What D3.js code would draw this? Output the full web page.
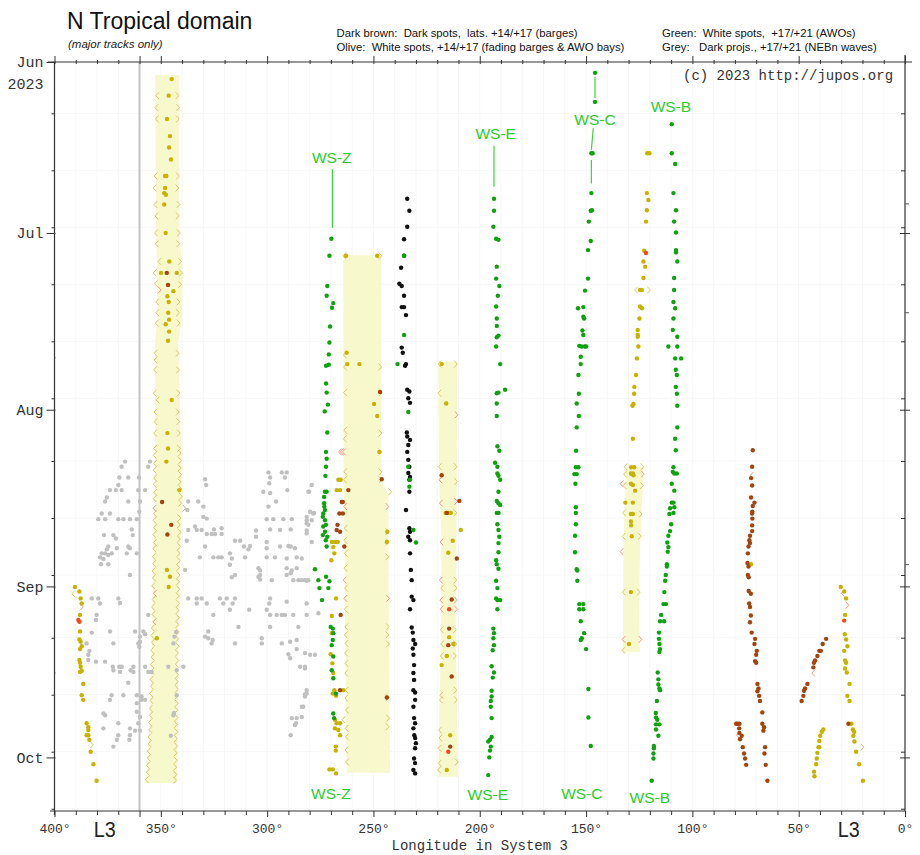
<!DOCTYPE html>
<html>
<head>
<meta charset="utf-8">
<script src="https://cdn.jsdelivr.net/npm/d3@7"></script>
<style>
  body { margin: 0; background: #fff; }
  svg { display: block; }
  text { white-space: pre; }
</style>
</head>
<body>
<svg id="chart" width="920" height="855"></svg>
<script>
// Drift chart of the North Tropical domain, 2023 apparition.
// Every measurement is [day, longitude]: day counted from 2023 June 1, 0h UT,
// longitude in System III degrees.

const startDate = new Date(Date.UTC(2023, 5, 1));
const endDay = 131.4;
const monthLabels = ["Jun", "Jul", "Aug", "Sep", "Oct"];
const yearLabel = "2023";
const lonLabelTicks = [400, 350, 300, 250, 200, 150, 100, 50, 0];

// Green: white spots (AWOs), tracks WS-Z, WS-E, WS-C, WS-B and a few others
const whiteSpots = [
  // WS-Z
  [31.0,269.8],[34.0,270.7],[39.3,271.7],[41.0,272.0],[42.3,268.9],[43.1,269.5],[46.4,270.4],[49.2,270.7],
  [51.3,271.0],[53.3,272.3],[53.1,271.0],[56.4,272.3],[58.0,272.0],[60.1,271.4],[61.3,272.9],[65.0,271.7],
  [68.4,272.3],[69.6,272.0],[71.0,272.3],[72.6,272.6],[75.4,272.8],[75.4,272.0],[76.3,273.2],[77.4,273.2],
  [78.0,273.1],[78.6,272.8],[79.2,273.6],[79.8,273.8],[80.4,272.8],[81.2,272.3],[81.5,273.6],[82.4,272.8],
  [83.0,273.8],[83.3,271.7],[83.9,272.4],[85.0,272.0],[89.0,277.5],[90.3,272.3],[90.9,275.9],[91.1,270.7],
  [92.3,275.4],[92.3,271.2],[94.4,274.2],[99.1,270.1],[99.4,269.1],[100.2,268.9],[101.4,269.1],[102.3,269.6],
  [104.3,268.9],[106.7,269.6],[108.1,268.9],[110.8,267.6],[114.3,268.9],[115.1,268.5],
  // scattered near the dark track
  [34.0,235.6],[47.9,235.6],[53.0,238.7],[61.4,233.6],[71.0,233.6],[73.3,232.8],[74.5,233.1],[82.1,231.2],[84.3,230.0],
  // WS-E
  [24.0,193.3],[26.1,193.3],[28.9,193.6],[31.0,192.3],[31.2,191.2],[35.9,192.0],[38.0,192.3],[39.3,190.8],
  [41.0,191.5],[42.9,192.3],[45.0,192.0],[46.3,192.0],[48.0,191.2],[48.3,192.0],[49.9,192.3],[53.0,190.4],
  [58.1,192.0],[58.0,191.2],[57.5,188.1],[59.9,192.0],[62.1,192.0],[67.4,191.7],[68.2,190.8],[70.3,192.8],
  [71.0,191.7],[72.2,191.7],[72.6,191.2],[73.3,190.4],[75.4,191.2],[77.0,192.0],[77.4,191.2],[77.7,190.4],
  [79.1,192.0],[79.1,191.2],[81.1,191.7],[82.1,191.2],[83.3,190.8],[84.4,191.2],[86.0,191.2],[87.4,192.3],
  [88.1,192.0],[88.9,191.2],[91.0,192.3],[92.3,191.7],[94.1,192.3],[94.4,191.7],[94.4,190.4],[96.0,191.7],
  [99.4,193.6],[100.2,193.3],[101.1,193.6],[102.3,193.3],[103.2,193.9],[106.0,194.4],[107.1,193.3],[108.0,193.9],
  [110.3,194.4],[111.3,194.4],[112.1,194.8],[113.1,194.8],[115.1,194.4],[118.4,194.4],[118.9,195.2],[119.2,196.0],
  [120.1,194.8],[120.8,195.2],[122.0,195.5],[125.1,196.0],
  // WS-C
  [1.9,145.8],[7.0,145.8],[16.0,147.5],[16.0,146.9],[23.0,147.5],[26.1,147.8],[26.0,147.2],[28.0,148.7],
  [31.4,147.8],[33.0,149.1],[38.0,149.1],[40.1,150.5],[43.2,153.8],[43.0,151.3],[44.7,151.3],[45.0,150.9],
  [47.1,151.7],[47.9,151.3],[49.8,153.2],[49.9,152.0],[49.9,150.5],[49.9,150.0],[51.7,152.5],[53.0,152.5],
  [54.9,153.6],[58.2,153.4],[59.9,154.4],[62.1,153.4],[64.1,154.4],[68.2,154.7],[71.1,154.8],[71.1,153.6],
  [72.3,155.5],[72.3,154.4],[74.0,155.0],[78.1,154.8],[79.1,154.8],[81.1,154.8],[83.1,155.2],[86.0,155.2],
  [89.0,154.4],[89.2,154.1],[91.0,154.1],[95.1,153.2],[95.1,151.3],[96.0,153.2],[96.0,151.3],[98.1,152.5],
  [100.2,150.9],[101.1,152.0],[101.4,152.5],[103.0,150.0],[110.0,148.9],[115.0,148.9],[120.0,147.8],
  // WS-B
  [10.9,109.7],[16.0,109.7],[17.9,108.1],[23.0,108.9],[26.0,107.7],[28.0,108.6],[29.9,107.7],[33.0,107.7],
  [33.4,107.7],[35.0,107.1],[37.9,108.6],[40.0,108.6],[42.1,108.9],[43.2,108.1],[45.0,108.9],[47.0,109.2],
  [48.2,107.1],[49.9,111.3],[49.9,107.1],[52.0,108.1],[52.0,105.3],[54.0,107.8],[54.9,107.3],[57.0,107.8],
  [58.2,107.3],[60.3,107.1],[64.1,107.1],[66.1,108.1],[68.1,107.8],[71.1,108.9],[71.9,109.2],[72.2,108.5],
  [72.2,107.3],[74.0,109.7],[75.2,108.5],[77.3,109.7],[77.3,108.9],[78.1,108.5],[78.3,110.5],[79.3,110.8],
  [79.1,108.9],[81.1,110.0],[82.3,110.5],[83.1,111.3],[84.3,111.8],[85.1,111.3],[85.9,111.6],[88.1,112.0],
  [88.5,112.0],[90.0,112.5],[91.0,112.8],[93.0,113.2],[95.1,113.6],[95.1,112.4],[97.0,114.7],[98.1,115.2],
  [98.1,113.3],[100.1,115.7],[101.2,115.7],[102.1,115.5],[103.0,115.2],[103.5,115.5],[107.1,116.3],[108.3,116.0],
  [109.2,116.0],[109.9,115.5],[110.2,115.2],[112.1,116.7],[114.2,117.2],[115.0,117.1],[115.4,116.5],[116.2,117.1],
  [116.2,115.5],[117.1,117.1],[118.2,116.0],[120.0,118.1],[120.4,118.1],[121.3,118.3],[122.2,118.3],[126.1,119.1],
  // spots just beyond the left edge
  [51.9,400.6],[107.2,400.6]
];

// Olive: white spots at +14/+17 (fading barges and AWO bays)
const fadingSpots = [
  // around 345
  [3.0,344.9],[5.9,346.3],[10.0,347.1],[13.0,345.7],[15.0,346.1],[17.1,345.2],[20.0,348.0],[20.0,347.4],
  [22.1,348.0],[23.0,348.4],[23.3,347.6],[25.0,348.4],[30.0,347.7],[35.0,346.0],[37.0,349.9],[37.0,342.5],
  [40.2,344.1],[41.1,346.9],[42.1,346.3],[44.0,346.5],[45.2,346.1],[46.0,347.7],[47.3,346.1],[48.9,346.6],
  [59.3,344.9],[65.1,346.9],[67.8,346.6],[70.1,347.4],[75.1,341.3],[89.1,347.1],[90.3,345.7],[92.1,346.3],
  [101.1,351.9],
  // around 255-270
  [34.0,262.9],[34.0,248.2],[51.0,262.6],[53.0,262.3],[53.0,256.6],[60.0,249.7],[62.1,248.2],[68.4,247.2],
  [73.3,266.5],[73.3,265.4],[75.1,267.3],[75.1,265.7],[84.2,269.5],[84.2,268.1],[84.2,266.8],[85.1,268.9],
  [86.2,268.4],[87.4,269.8],[82.4,243.5],[84.2,243.7],[94.1,267.6],[97.2,269.6],[100.2,269.6],[100.2,268.9],
  [103.9,270.1],[105.5,269.3],[107.2,268.9],[110.2,268.4],[110.8,269.1],[111.2,267.6],[110.2,264.2],[115.4,268.1],
  [116.0,267.3],[116.0,265.7],[116.9,268.1],[117.2,266.5],[118.1,265.7],[120.1,267.7],[120.8,267.7],[124.1,270.7],
  [124.1,269.1],[124.8,267.6],
  // around 215
  [53.0,217.9],[59.9,215.8],[79.1,216.0],[79.1,214.8],[79.1,213.6],[82.1,208.9],[84.0,212.7],[86.1,214.8],
  [100.9,214.4],[102.1,212.4],[104.2,215.5],[105.8,217.9],[118.1,213.9],[124.2,215.5],
  // around 125
  [16.0,121.2],[16.0,120.2],[23.0,121.4],[24.2,120.7],[26.0,121.4],[28.0,121.8],[33.1,122.7],[35.0,123.0],
  [35.9,122.2],[37.9,123.0],[40.0,124.6],[40.0,123.8],[42.9,124.6],[43.2,123.7],[45.0,124.9],[47.0,125.7],
  [47.9,125.7],[48.2,125.7],[49.9,125.4],[52.0,126.1],[54.9,126.5],[57.0,127.3],[58.2,127.4],[60.0,127.7],
  [60.3,128.2],[66.1,128.0],[71.1,128.8],[71.1,127.4],[72.2,128.9],[72.2,128.0],[72.3,128.5],[72.5,127.7],
  [74.0,128.9],[74.2,128.0],[75.2,126.9],[77.3,131.5],[77.3,128.0],[79.3,128.9],[79.3,128.0],[80.6,128.9],
  [81.3,128.8],[83.2,128.5],[93.0,128.9],[102.1,129.8],
  // east of 75
  [88.1,72.4],
  [92.1,30.2],[92.9,28.6],[94.1,27.7],[97.0,28.2],[100.4,28.3],[101.3,27.7],[102.5,27.1],[103.3,28.6],
  [105.0,28.2],[105.4,27.7],[106.4,28.2],[107.1,27.4],[109.1,26.1],[111.2,27.1],[112.1,26.1],[116.1,25.2],
  [117.1,24.5],[117.5,23.9],[118.2,24.3],[119.2,23.8],[121.0,23.0],[123.2,21.6],[126.1,19.8],
  [117.1,38.4],[117.5,39.1],[118.2,39.9],[119.1,40.3],[120.2,40.7],[120.2,40.3],[121.2,41.2],[122.2,41.5],
  [123.2,41.8],[124.5,42.8],[125.3,42.6],
  // around 387
  [92.1,390.4],[92.9,388.3],[94.1,387.7],[95.0,387.2],[97.0,388.0],[99.9,388.0],[101.3,388.3],[101.7,387.7],
  [102.5,387.2],[103.0,388.0],[104.9,388.3],[105.4,388.0],[106.1,387.7],[106.8,387.2],[107.0,388.0],[109.1,386.5],
  [111.1,387.2],[111.9,386.5],[116.0,384.9],[116.7,384.1],[117.2,384.1],[118.1,384.9],[118.1,384.1],[118.9,383.6],
  [121.0,383.0],[123.2,381.7],[126.1,380.2]
];

// Dark brown: dark spots at +14/+17 (barges)
const darkSpots = [
  [37.0,347.2],[39.1,346.6],[77.2,349.4],[81.2,345.1],[82.9,346.9],
  [57.9,246.9],[73.2,246.1],[75.1,261.8],[77.2,264.9],[77.2,264.4],[79.2,266.0],[79.2,264.4],[81.2,266.9],
  [82.4,265.7],[82.1,267.3],[85.0,263.7],[97.0,265.4],[110.2,265.7],[111.5,243.7],
  [72.5,217.9],[77.0,209.6],[79.1,215.5],[87.1,210.8],[94.3,213.2],[99.4,214.4],[102.3,214.8],[107.8,213.2],[120.1,213.9],
  [68.1,71.6],[71.0,71.9],[73.0,72.4],[74.3,71.9],[76.4,72.4],[77.3,70.8],[77.9,71.6],[78.9,71.8],[79.2,71.9],
  [80.1,71.8],[81.3,71.9],[82.3,71.9],[83.1,72.9],[83.9,73.2],[84.4,72.9],[85.0,73.6],[86.2,73.9],[87.9,74.1],
  [88.5,73.6],[90.0,73.9],[90.4,73.5],[92.8,73.5],[93.3,72.5],[95.0,73.3],[95.6,72.9],[97.1,72.5],[98.3,72.9],
  [100.1,72.1],[101.2,70.5],[102.1,70.8],[103.3,69.7],[104.0,70.0],[105.1,70.5],[105.4,70.0],[109.1,69.4],
  [109.9,68.9],[110.4,69.4],[111.2,68.6],[112.1,68.2],[114.1,67.1],[116.1,67.1],[116.7,66.3],[117.3,66.6],
  [120.2,65.8],[121.3,66.1],[123.3,65.5],[126.1,64.7],
  [116.1,79.4],[116.1,78.8],[116.1,77.9],[116.9,78.0],[117.7,77.9],[118.2,76.8],[118.8,77.6],[120.2,76.3],
  [121.3,75.7],[122.2,75.2],[123.3,74.7],
  [101.2,37.1],[102.1,38.7],[103.3,40.3],[103.3,39.6],[104.2,41.2],[105.0,42.3],[105.4,42.8],[106.2,43.1],
  [109.1,45.9],[109.9,47.0],[110.3,47.5],[111.2,47.8],[112.1,48.6],
  [116.1,26.6]
];

// Reddish dark spots
const redSpots = [
  [96.0,214.4],[121.0,214.8],[33.5,121.8],[98.0,28.6],[97.9,388.8],[98.2,388.3]
];

// Black: dark spots of the track near 233
const blackSpots = [
  [24.0,234.1],[26.1,233.1],[28.9,234.1],[31.1,235.6],[34.0,235.6],[36.1,237.0],[38.9,237.8],[39.3,236.7],
  [41.0,235.6],[43.0,236.7],[43.0,235.6],[44.4,234.7],[50.1,236.7],[51.0,236.2],[53.0,234.7],[53.3,235.1],
  [57.5,234.1],[57.8,233.1],[59.0,233.6],[59.8,232.8],[65.0,234.3],[65.7,234.1],[66.3,232.8],[67.2,233.6],
  [68.4,234.1],[69.8,233.6],[71.0,233.1],[72.1,233.6],[72.8,232.8],[73.3,233.1],[75.4,233.1],[78.6,234.7],
  [81.8,233.1],[82.4,232.8],[83.3,233.6],[83.9,232.8],[86.2,232.8],[89.1,232.4],[90.9,232.0],[93.8,232.0],
  [94.4,231.2],[96.0,232.8],[99.2,232.0],[100.1,231.5],[101.4,231.2],[102.1,230.4],[102.9,231.5],[104.0,231.2],
  [105.8,230.9],[107.2,231.2],[108.4,230.9],[110.2,231.2],[110.6,230.4],[111.9,230.4],[113.1,231.2],[115.1,230.9],
  [116.0,230.4],[116.9,231.2],[118.1,230.8],[118.6,230.4],[119.5,230.0],[120.4,230.4],[122.2,230.9],[123.0,230.4],
  [124.2,231.2],[124.8,230.4]
];

// Grey: dark projections at +17/+21 (NEBn waves)
const darkProjections = [
  [70.1,366.8],[70.1,355.1],[71.0,368.4],[71.0,355.9],[72.0,299.4],[72.0,293.1],[72.0,290.8],[72.9,369.5],
  [72.9,365.3],[72.9,360.3],[72.9,298.6],[72.9,291.6],[73.2,329.2],[74.2,328.7],[73.9,299.0],[75.1,373.9],
  [75.1,371.1],[75.1,368.4],[75.1,360.6],[75.1,357.4],[74.2,370.0],[75.4,301.8],[75.6,298.6],[75.1,290.5],
  [75.4,280.3],[76.4,375.4],[77.1,376.2],[77.1,365.3],[77.1,359.8],[77.1,337.1],[77.1,332.4],[77.1,295.8],
  [78.0,330.0],[78.6,337.5],[79.2,377.8],[79.2,373.9],[78.9,360.1],[78.0,299.4],[78.9,279.8],[79.1,277.9],
  [79.8,281.4],[80.2,379.4],[80.2,376.2],[80.2,370.0],[80.2,367.6],[80.2,364.5],[80.2,361.3],[79.8,330.0],
  [80.1,328.4],[80.2,300.2],[80.2,297.1],[80.2,292.4],[80.2,288.4],[80.4,281.4],[80.4,279.0],[81.5,333.9],
  [82.1,337.1],[82.1,333.1],[82.1,330.8],[82.8,328.4],[82.8,326.1],[82.8,324.5],[82.8,321.4],[81.8,321.4],
  [82.0,325.0],[82.0,298.6],[82.1,293.9],[82.0,288.9],[80.9,281.4],[82.2,281.4],[83.0,376.7],[83.0,372.3],
  [82.0,363.7],[83.0,363.2],[83.6,371.1],[82.2,305.2],[83.3,305.2],[84.0,337.8],[85.0,329.2],[84.0,315.1],
  [84.0,312.7],[85.0,374.7],[85.5,375.4],[85.3,370.7],[85.0,365.3],[85.3,364.5],[86.2,377.8],[86.2,376.2],
  [86.2,373.1],[86.5,374.7],[86.2,366.0],[86.2,361.3],[85.0,310.9],[85.5,308.8],[84.9,308.0],[84.2,300.2],
  [85.3,300.2],[85.0,293.9],[84.9,290.0],[85.0,288.9],[85.3,286.9],[86.9,378.6],[87.2,377.0],[88.1,378.1],
  [86.9,325.3],[86.9,323.0],[86.9,321.4],[86.2,317.5],[87.1,316.6],[86.9,310.4],[86.9,300.2],[86.9,296.3],
  [87.1,290.8],[86.9,286.1],[87.1,283.7],[88.1,374.7],[86.9,331.6],[88.2,317.5],[88.8,304.1],[89.2,303.3],
  [88.8,290.8],[89.2,288.4],[88.8,286.1],[90.0,364.5],[89.1,338.6],[90.4,316.6],[90.0,315.1],[90.3,304.1],
  [90.0,303.3],[90.8,303.3],[90.0,290.8],[89.7,288.9],[90.9,287.7],[90.9,285.3],[90.9,283.7],[91.0,281.4],
  [90.9,297.8],[94.1,382.5],[94.1,379.4],[95.0,378.6],[94.1,370.0],[94.9,369.2],[94.1,337.1],[94.1,333.1],
  [94.1,330.8],[95.0,333.1],[95.0,328.4],[94.1,322.2],[94.1,319.0],[94.1,315.1],[95.0,320.6],[95.0,316.2],
  [95.0,299.0],[94.1,298.6],[94.7,290.8],[95.0,281.4],[97.0,380.2],[97.9,380.5],[97.0,355.9],[97.0,325.3],
  [96.1,317.5],[96.1,308.4],[96.1,300.2],[97.0,295.5],[97.0,293.1],[97.0,291.6],[97.0,298.6],[97.0,287.7],
  [97.0,281.4],[96.7,275.9],[100.1,382.5],[99.9,373.9],[99.9,362.1],[99.9,358.2],[100.4,357.4],[100.8,329.2],
  [99.9,327.7],[99.1,313.5],[99.1,298.6],[99.1,285.3],[100.8,359.8],[101.7,359.8],[102.6,360.1],[102.0,384.9],
  [102.0,372.3],[102.0,360.6],[101.1,327.7],[101.4,325.6],[102.0,326.1],[102.0,315.1],[101.1,302.5],[102.0,302.5],
  [102.0,293.1],[101.7,289.2],[101.4,286.1],[103.0,286.1],[103.9,290.0],[104.6,289.2],[103.7,282.2],[104.0,279.8],
  [104.0,277.5],[103.3,383.6],[104.0,384.1],[104.9,384.1],[105.2,380.5],[105.2,376.2],[106.1,369.5],[106.1,368.4],
  [106.1,362.9],[106.1,357.4],[107.0,355.9],[107.0,354.3],[106.1,346.5],[106.7,342.5],[106.1,339.4],[106.1,372.6],
  [106.7,372.3],[107.0,369.2],[106.7,364.2],[107.0,362.9],[106.1,284.5],[106.1,282.2],[108.9,365.3],[111.1,373.1],
  [111.1,367.6],[111.1,361.3],[111.3,359.0],[111.9,357.4],[111.9,359.0],[111.1,342.5],[110.8,281.4],[111.3,282.2],
  [111.9,373.9],[112.5,361.3],[113.1,283.0],[114.9,283.7],[115.1,286.1],[115.1,288.4],[116.0,286.4],[116.3,286.9],
  [118.1,288.9],[114.3,377.0],[114.6,376.2],[114.0,361.3],[114.9,359.8],[114.6,344.1],[116.0,360.6],[116.9,377.0],
  [116.0,370.0],[116.9,364.5],[117.3,362.1],[117.3,359.8],[118.1,370.0],[120.1,372.3],[118.1,364.5],[118.9,370.7],
  [118.9,364.8],[118.2,345.3],[74.2,279.0],[75.4,280.6],[79.2,278.3],[81.2,280.6],[82.7,281.4],[84.2,279.0],
  [90.9,282.2],[90.9,280.6],[106.4,282.2],[110.2,281.4],[110.9,282.2],[113.1,283.7],[100.0,342.8],[100.8,343.6],
  [102.0,344.1],[114.2,343.8]
];

// Shaded extents of the fading barges / bays: [day, west edge, east edge]
const extent1 = [[2.3,352.7,341.3],[30,352.2,341.3],[37,351.8,339.7],[45,351.8,340.0],[49,352.7,341.8],
  [66,352.7,340.6],[76,352.7,339.7],[86,353.5,341.0],[100,354.1,341.8],[115,355.1,341.9],[126.5,357.0,342.5]];
const extent2 = [[33.9,264.2,246.4],[73.5,264.0,246.3],[75.8,263.9,243.0],[100,263.3,242.8],[124.7,262.6,242.2]];
const extent3 = [[52.6,219.5,210.5],[70,219.3,210.8],[85,218.0,211.0],[100,218.2,211.3],[115,219.0,210.6],[125.4,219.5,210.1]];
const extent4 = [[71.0,131.0,123.0],[74,131.5,123.3],[85,132.4,124.6],[95,132.6,125.0],[103.5,132.7,124.7]];

// Edge measurements: preceding edges drawn "<", following edges ">"
const precedingEdges = [
  [5.9,351.6],[8.0,352.0],[10.0,351.8],[20.0,352.4],[22.1,352.8],[25.0,352.4],[27.0,352.0],[30.0,352.2],
  [31.9,351.8],[35.0,350.6],[37.0,352.8],[38.9,352.2],[42.1,351.6],[44.0,351.6],[45.8,351.8],[51.1,352.4],
  [52.3,352.4],[54.0,352.6],[58.1,352.8],[59.3,351.4],[61.4,352.4],[63.1,352.4],[65.1,352.6],[67.8,352.6],
  [69.0,352.8],[70.4,352.6],[71.6,352.8],[73.0,352.6],[74.1,352.8],[75.5,352.5],[76.6,352.8],[79.2,352.7],
  [80.4,352.9],[81.7,352.6],[82.9,352.9],[84.3,352.7],[85.4,353.0],[86.8,353.2],[88.0,353.0],[89.3,353.4],
  [90.5,353.2],[91.9,353.5],[94.3,353.3],[95.6,353.6],[96.9,353.4],[99.3,353.7],[100.6,353.9],[101.8,353.6],
  [103.2,354.0],[104.4,353.8],[105.7,354.1],[106.9,353.9],[108.3,354.3],[109.5,354.1],[110.8,354.5],[112.0,354.3],
  [113.4,354.7],[114.6,354.6],[115.9,355.0],[117.1,354.8],[118.4,355.3],[119.6,355.2],[120.9,355.6],[122.1,355.6],
  [123.4,356.0],[124.6,356.0],[125.9,356.5],
  [34.0,263.6],[51.4,263.3],[53.5,263.3],[58.0,263.3],[64.6,263.2],[66.1,263.4],[71.9,263.2],[73.3,263.3],
  [81.8,263.0],[83.9,263.2],[86.2,262.9],[88.8,263.1],[92.3,262.8],[96.0,262.9],[99.1,262.7],[100.5,262.9],
  [102.0,262.6],[103.7,262.8],[105.5,262.6],[107.2,262.7],[110.2,262.5],[111.6,262.7],[113.7,262.4],[115.4,264.0],
  [116.9,262.5],[118.4,262.4],[120.7,262.6],[122.8,262.3],
  [53.0,218.9],[58.1,218.9],[71.0,218.7],[92.3,217.6],[99.6,217.8],[102.1,217.6],[104.2,217.8],[111.1,218.0],
  [111.9,218.2],[117.2,218.6],[118.6,218.4],[120.4,218.8],[123.0,218.7],[124.2,219.0],
  [71.0,131.3],[72.3,131.6],[74.3,131.8],[79.1,132.0],[83.2,132.2],[93.0,132.2],[103.2,132.3],
  [40.0,126.4],[93.3,391.1]
];
const followingEdges = [
  [5.9,342.3],[8.0,341.9],[10.0,342.1],[20.0,342.0],[22.1,342.3],[25.0,341.8],[27.0,342.1],[30.0,341.6],
  [31.9,341.9],[35.0,341.0],[37.0,340.6],[39.0,341.0],[42.1,341.8],[44.0,342.0],[45.8,341.7],[51.1,342.2],
  [54.0,342.0],[58.1,341.8],[61.4,342.1],[63.1,341.9],[65.1,341.6],[67.8,341.5],
  [68.6,341.2],[69.9,341.0],[71.2,341.3],[72.4,341.0],[73.7,341.2],[74.9,340.9],[76.2,340.7],[77.4,341.0],
  [80.0,341.3],[81.2,341.6],[82.5,341.3],[83.7,341.6],[85.0,341.4],[86.2,341.8],[87.5,341.6],[88.7,341.9],
  [90.0,341.7],[91.2,342.0],[92.5,341.8],[93.7,342.1],[95.0,341.9],[96.2,342.2],[97.5,342.0],[98.7,342.3],
  [100.0,342.1],[101.2,342.4],[102.5,342.2],[103.7,342.5],[105.0,342.3],[106.2,342.5],[107.5,342.4],[108.7,342.6],
  [110.0,342.5],[111.2,342.7],[112.5,342.6],[113.7,342.8],[115.0,342.7],[116.2,342.9],[117.5,342.8],[118.7,343.0],
  [120.0,342.9],[121.2,343.1],[122.5,343.0],[123.7,343.3],[125.0,343.2],[126.0,343.4],
  [34.0,246.9],[53.5,246.9],[58.0,246.7],[65.1,246.8],[68.4,246.9],[71.9,246.8],[73.3,246.7],[75.4,242.2],
  [82.4,243.6],[84.2,243.4],[86.8,243.6],[99.1,243.3],[100.5,243.5],[102.1,243.3],[115.1,243.2],[116.6,243.4],
  [53.0,211.3],[71.0,211.4],[73.6,211.2],[79.1,211.5],[90.9,211.6],[92.3,211.4],[99.6,211.8],[102.1,211.6],
  [104.2,211.8],[110.2,211.5],[111.9,211.3],[122.8,210.9],
  [71.0,123.6],[74.3,123.8],[79.3,124.4],[83.2,124.8],[93.0,125.3],
  [40.0,120.5],[119.8,382.5],[120.2,20.1]
];
const precedingEdgesRed = [
  [78.3,352.9],[93.2,352.7],[98.2,352.9],
  [68.4,265.7],[68.4,264.8],[68.4,263.8],[78.0,263.2],[90.9,263.5],[94.1,263.1],
  [73.3,218.4],[77.4,218.2],[84.2,217.9],[90.9,218.2],[94.4,218.0],[96.0,217.9],
  [74.0,133.2],[85.9,133.2],[101.3,132.3],
  [93.2,29.2],[107.2,43.1],[118.1,78.5],[72.5,72.0]
];
const followingEdgesRed = [
  [78.3,339.0],[40.0,350.6],
  [78.0,243.5],[94.1,243.2],[111.5,243.4],
  [61.9,211.0],[77.1,211.2],[94.4,211.3],[96.0,211.2],
  [72.3,123.4],[101.3,124.5],
  [95.6,387.2],[95.3,27.1]
];

// Track names: label anchors and leader strokes [day1, lon1, day2, lon2]
const trackLabels = [
  {name: "WS-Z", day: 17.7, lon: 269.6}, {name: "WS-E", day: 13.5, lon: 192.5},
  {name: "WS-C", day: 11.1, lon: 145.8}, {name: "WS-B", day: 8.8, lon: 110.1},
  {name: "WS-Z", day: 129.3, lon: 270.0}, {name: "WS-E", day: 129.5, lon: 196.2},
  {name: "WS-C", day: 129.3, lon: 152.0}, {name: "WS-B", day: 130.0, lon: 120.0}
];
const leaders = [
  [18.8,269.3,29.1,269.3],[14.7,193.3,21.9,193.3],
  [2.6,145.8,6.3,145.8],[11.6,146.6,15.4,147.5],[17.2,147.5,21.3,147.5]
];

const rotationLabels = [{text: "L3", lon: 376.4}, {text: "L3", lon: 26.5}];
// Extra marks on the right-hand axis
const rightMarks = [24.8, 43.9, 88.1];

// ------------------------------------------------------------------
const svg = d3.select("#chart");
const pLeft = 54.5, pRight = 905, pTop = 62, pBottom = 811;
const x = d3.scaleLinear().domain([400, 0]).range([pLeft, pRight]);
const y = d3.scaleLinear().domain([0, endDay]).range([pTop, pBottom]);

const dayOf = dt => d3.utcDay.count(startDate, dt);
const monthStarts = d3.range(5).map(m => dayOf(new Date(Date.UTC(2023, 5 + m, 1))));
const tenDays = [];
for (let m = 0; m < 5; m++) {
  [10, 20, 30].forEach(dd => {
    const dt = new Date(Date.UTC(2023, 5 + m, dd));
    const d = dayOf(dt);
    if (d <= endDay && dt.getUTCMonth() === 5 + m) tenDays.push(d);
  });
}

svg.append("defs").append("clipPath").attr("id", "plotclip")
  .append("rect").attr("x", pLeft).attr("y", pTop).attr("width", pRight - pLeft).attr("height", pBottom - pTop);

const plot = svg.append("g").attr("clip-path", "url(#plotclip)");

// faint grid
plot.append("g").selectAll("line").data(d3.range(10, 400, 10)).join("line")
  .attr("x1", d => x(d)).attr("x2", d => x(d)).attr("y1", pTop).attr("y2", pBottom)
  .attr("stroke", "#f7f7f7").attr("stroke-width", 1);
plot.append("g").selectAll("line").data(tenDays).join("line")
  .attr("x1", pLeft).attr("x2", pRight).attr("y1", d => y(d)).attr("y2", d => y(d))
  .attr("stroke", "#f7f7f7").attr("stroke-width", 1);

// shaded extents
const area = d3.area().curve(d3.curveLinear)
  .y(d => y(d[0])).x0(d => x(d[1])).x1(d => x(d[2]));
plot.append("g").selectAll("path").data([extent1, extent2, extent3, extent4]).join("path")
  .attr("d", area).attr("fill", "#f8f8cd");

// 360 degree line
plot.append("line").attr("x1", x(360)).attr("x2", x(360)).attr("y1", pTop).attr("y2", pBottom)
  .attr("stroke", "#c4c4c4").attr("stroke-width", 2);

// edge marks
function chevrons(data, dir, color) {
  plot.append("g").selectAll("path").data(data).join("path")
    .attr("d", d => {
      const cx = x(d[1]), cy = y(d[0]);
      return dir < 0
        ? `M${cx + 1.6},${cy - 3.4}L${cx - 1.6},${cy}L${cx + 1.6},${cy + 3.4}`
        : `M${cx - 1.6},${cy - 3.4}L${cx + 1.6},${cy}L${cx - 1.6},${cy + 3.4}`;
    })
    .attr("fill", "none").attr("stroke", color).attr("stroke-width", 1);
}
chevrons(precedingEdges, -1, "#d6c964");
chevrons(followingEdges, 1, "#d6c964");
chevrons(precedingEdgesRed, -1, "#e99a80");
chevrons(followingEdgesRed, 1, "#e99a80");

// leader strokes
plot.append("g").selectAll("line").data(leaders).join("line")
  .attr("x1", d => x(d[1])).attr("y1", d => y(d[0])).attr("x2", d => x(d[3])).attr("y2", d => y(d[2]))
  .attr("stroke", "#3fd23f").attr("stroke-width", 1.2);

function dots(data, color, r) {
  plot.append("g").selectAll("circle").data(data).join("circle")
    .attr("cx", d => x(d[1])).attr("cy", d => y(d[0])).attr("r", r).attr("fill", color);
}
dots(darkProjections, "#c0c0c0", 2.2);
dots(fadingSpots, "#c6b200", 2.2);
dots(darkSpots, "#a3430e", 2.2);
dots(redSpots, "#f04a22", 2.2);
dots(blackSpots, "#111111", 2.2);
dots(whiteSpots, "#0ea20e", 2.2);

// track names
svg.append("g").selectAll("text").data(trackLabels).join("text")
  .attr("x", d => x(d.lon)).attr("y", d => y(d.day))
  .attr("text-anchor", "middle")
  .attr("font-family", "'Liberation Sans', Arial, sans-serif").attr("font-size", 15.5)
  .attr("fill", "#2ccc2c").text(d => d.name);

// ------------------------------------------------------------------
// frame
const frame = svg.append("g").attr("stroke", "#333").attr("stroke-width", 1.2);
frame.append("line").attr("x1", 48).attr("x2", 912).attr("y1", pTop).attr("y2", pTop);
frame.append("line").attr("x1", 50).attr("x2", pRight).attr("y1", pBottom).attr("y2", pBottom);
frame.append("line").attr("x1", pLeft).attr("x2", pLeft).attr("y1", pTop).attr("y2", pBottom + 4);
frame.append("line").attr("x1", pRight).attr("x2", pRight).attr("y1", 55).attr("y2", pBottom);

const mono = "'Liberation Mono', 'DejaVu Sans Mono', monospace";
const lonTicks = d3.range(0, 401, 10);
const isMajor = d => d % 50 === 0 || d === 360;

// bottom axis
const bottomAxis = svg.append("g").attr("transform", `translate(0,${pBottom})`)
  .call(d3.axisBottom(x).tickValues(lonTicks).tickSize(4).tickSizeOuter(0).tickPadding(9)
    .tickFormat(d => lonLabelTicks.includes(d) ? d + "°" : ""));
bottomAxis.select(".domain").remove();
bottomAxis.selectAll(".tick line").attr("stroke", "#333").attr("y2", d => isMajor(d) ? 6 : 4);
bottomAxis.selectAll("text").attr("font-family", mono).attr("font-size", 13).attr("fill", "#333");

// top axis
const topAxis = svg.append("g").attr("transform", `translate(0,${pTop})`)
  .call(d3.axisTop(x).tickValues(lonTicks).tickSize(2).tickSizeOuter(0).tickFormat(""));
topAxis.select(".domain").remove();
topAxis.selectAll(".tick line").attr("stroke", "#333").attr("y1", 2).attr("y2", d => isMajor(d) ? -6 : -2);

// left axis
const leftMinor = svg.append("g").attr("transform", `translate(${pLeft},0)`)
  .call(d3.axisLeft(y).tickValues(tenDays).tickSize(3).tickFormat(""));
leftMinor.select(".domain").remove();
leftMinor.selectAll(".tick line").attr("stroke", "#333");
const leftMonth = svg.append("g").attr("transform", `translate(${pLeft},0)`)
  .call(d3.axisLeft(y).tickValues(monthStarts).tickSize(8).tickPadding(3)
    .tickFormat((d, i) => monthLabels[i]));
leftMonth.select(".domain").remove();
leftMonth.selectAll(".tick line").attr("stroke", "#333").attr("x1", 1);
leftMonth.selectAll("text").attr("font-family", mono).attr("font-size", 15).attr("fill", "#333");
svg.append("text").attr("x", pLeft - 11).attr("y", 89).attr("text-anchor", "end")
  .attr("font-family", mono).attr("font-size", 15).attr("fill", "#333").text(yearLabel);

// right axis
const rightMinor = svg.append("g").attr("transform", `translate(${pRight},0)`)
  .call(d3.axisRight(y).tickValues(tenDays).tickSize(-4).tickFormat(""));
rightMinor.select(".domain").remove();
rightMinor.selectAll(".tick line").attr("stroke", "#333");
const rightMonth = svg.append("g").attr("transform", `translate(${pRight},0)`)
  .call(d3.axisRight(y).tickValues(monthStarts.slice(1)).tickSize(5).tickFormat(""));
rightMonth.select(".domain").remove();
rightMonth.selectAll(".tick line").attr("stroke", "#333").attr("x1", -5);
const rightExtra = svg.append("g").attr("transform", `translate(${pRight},0)`)
  .call(d3.axisRight(y).tickValues(rightMarks).tickSize(4).tickFormat(""));
rightExtra.select(".domain").remove();
rightExtra.selectAll(".tick line").attr("stroke", "#555");

// rotation labels and axis title
svg.append("g").selectAll("text").data(rotationLabels).join("text")
  .attr("x", d => x(d.lon)).attr("y", 837).attr("text-anchor", "middle")
  .attr("font-family", "'Liberation Sans Narrow', 'Liberation Sans', Arial, sans-serif")
  .attr("font-size", 22).attr("textLength", 22).attr("lengthAdjust", "spacingAndGlyphs")
  .attr("fill", "#222").text(d => d.text);
svg.append("text").attr("x", (pLeft + pRight) / 2).attr("y", 850).attr("text-anchor", "middle")
  .attr("font-family", mono).attr("font-size", 14).attr("fill", "#333").text("Longitude in System 3");

// titles and key
const sans = "'Liberation Sans', Arial, sans-serif";
svg.append("text").attr("x", 67).attr("y", 29).attr("font-family", sans).attr("font-size", 23)
  .attr("fill", "#111").text("N Tropical domain");
svg.append("text").attr("x", 68).attr("y", 48).attr("font-family", sans).attr("font-size", 11.5)
  .attr("font-style", "italic").attr("fill", "#222").text("(major tracks only)");

const keyLines = [
  {x: 336.5, y: 37, t: "Dark brown:  Dark spots,  lats. +14/+17 (barges)"},
  {x: 336.5, y: 51, t: "Olive:  White spots, +14/+17 (fading barges & AWO bays)"},
  {x: 662, y: 37, t: "Green:  White spots,  +17/+21 (AWOs)"},
  {x: 662, y: 51, t: "Grey:   Dark projs., +17/+21 (NEBn waves)"}
];
svg.append("g").selectAll("text").data(keyLines).join("text")
  .attr("x", d => d.x).attr("y", d => d.y).attr("font-family", sans).attr("font-size", 11.3)
  .attr("fill", "#111").text(d => d.t);

svg.append("text").attr("x", 683).attr("y", 80).attr("font-family", mono).attr("font-size", 14)
  .attr("fill", "#333").text("(c) 2023 http://jupos.org");
</script>
</body>
</html>
